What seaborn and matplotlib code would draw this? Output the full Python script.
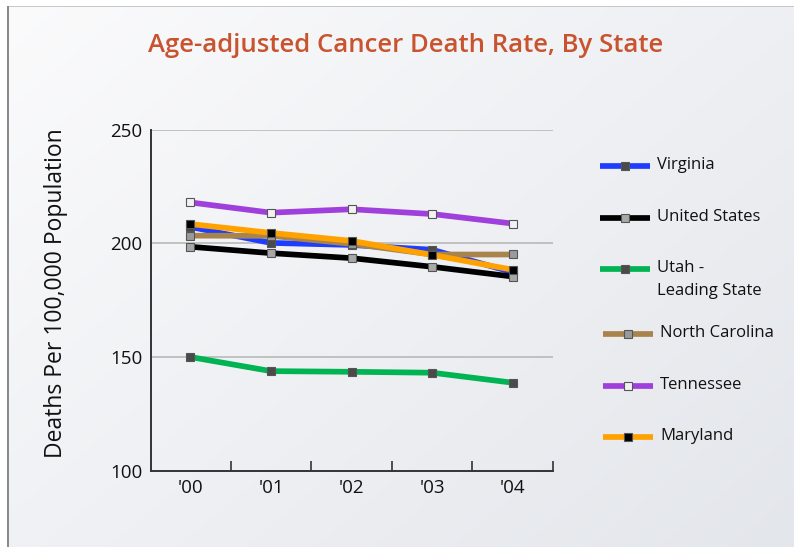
import numpy as np
import matplotlib
matplotlib.use("Agg")
import matplotlib.pyplot as plt
import seaborn as sns
from matplotlib.lines import Line2D
from matplotlib.colors import to_rgb

# --- data -------------------------------------------------------------
years = ["'00", "'01", "'02", "'03", "'04"]
virginia = [207.2, 200.2, 199.3, 197.2, 187.3]
united_states = [198.5, 195.7, 193.5, 189.7, 185.4]
utah = [150.0, 143.8, 143.5, 143.1, 138.7]
north_carolina = [203.4, 203.3, 199.8, 195.1, 195.1]
tennessee = [218.0, 213.5, 215.0, 212.9, 208.7]
maryland = [208.5, 204.6, 201.1, 194.9, 188.4]

labels = ["Virginia", "United States", "Utah -\nLeading State",
          "North Carolina", "Tennessee", "Maryland"]
series = [virginia, united_states, utah, north_carolina, tennessee, maryland]
line_colors = ["#1f3dff", "#000000", "#00b353", "#a8844c", "#a040dc", "#ffa200"]
marker_faces = ["#4a4a4a", "#a8a8a8", "#4a4a4a", "#9a9a9a", "#f2f2f2", "#000000"]
yticks = [100, 150, 200, 250]

sns.set_theme(style="white")
plt.rcParams["font.family"] = ["Open Sans", "DejaVu Sans"]

W, H = 794, 547
fig = plt.figure(figsize=(W / 100, H / 100), dpi=100)

# soft diagonal gradient backdrop with a thin frame on the left and top
bg = fig.add_axes([0, 0, 1, 1], zorder=-10)
yy, xx = np.mgrid[0:H, 0:W]
t = (xx / W * 0.55 + yy / H * 0.45)
c0 = np.array(to_rgb("#fbfbfc"))
c1 = np.array(to_rgb("#e3e6eb"))
img = c0[None, None, :] * (1 - t[..., None]) + c1[None, None, :] * t[..., None]
img[:6, :, :] = 1.0
img[:, :7, :] = 1.0
img[6, 7:, :] = to_rgb("#c8c8c8")
img[6:, 7:9, :] = to_rgb("#8a8a8a")
bg.imshow(img, aspect="auto", extent=[0, W, H, 0], interpolation="bilinear")
bg.set_axis_off()

ax = fig.add_axes([0.190, 0.1395, 0.5065, 0.6234])
ax.patch.set_alpha(0)

line_kw = dict(linewidth=4.1, marker="s", markersize=6,
               markeredgecolor="#555555", markeredgewidth=0.8)

for vals, col, mf in zip(series, line_colors, marker_faces):
    sns.lineplot(x=years, y=vals, ax=ax, color=col, markerfacecolor=mf,
                 sort=False, legend=False, **line_kw)

ax.set_ylim(100, 250)
ax.set_xlim(-0.49, 4.5)
ax.set_yticks(yticks)
ax.set_yticklabels([str(v) for v in yticks], fontsize=13.5, color="#111111")
ax.set_xticks(range(len(years)))
ax.set_xticklabels(years, fontsize=13.5, color="#111111")
ax.set_xticks([i + 0.5 for i in range(len(years))], minor=True)
ax.tick_params(axis="both", which="major", length=0, pad=6)
ax.tick_params(axis="x", which="minor", direction="in", length=7,
               width=1.2, color="#333333", bottom=True)
for y in yticks[1:]:
    ax.axhline(y, color="#bdbdbd", linewidth=1.3, zorder=0)
for s in ["top", "right"]:
    ax.spines[s].set_visible(False)
for s in ["left", "bottom"]:
    ax.spines[s].set_color("#333333")
    ax.spines[s].set_linewidth(1.4)
ax.set_xlabel("")
ax.set_ylabel("Deaths Per 100,000 Population", fontsize=16.5, color="#111111")
ax.yaxis.set_label_coords(-0.205, 0.52)

# legend: swatch on the left, first text line aligned with the swatch
legend_rows = [166, 218, 269, 334, 386, 437]
legend_x0 = [600, 600, 600, 603, 603, 603]
for row, x0, lab, col, mf in zip(legend_rows, legend_x0, labels,
                                 line_colors, marker_faces):
    yf = 1 - row / H
    fig.add_artist(Line2D([x0 / W, (x0 + 50) / W], [yf, yf], color=col,
                          linewidth=4.1, solid_capstyle="butt"))
    fig.add_artist(Line2D([(x0 + 25) / W], [yf], color=col, linestyle="none",
                          marker="s", markersize=6, markerfacecolor=mf,
                          markeredgecolor="#555555", markeredgewidth=0.8))
    fig.text((x0 + 57) / W, yf + 9 / H, lab, ha="left", va="top",
             fontsize=12, color="#111111", linespacing=1.55)

fig.text(406 / W, 1 - 45 / H, "Age-adjusted Cancer Death Rate, By State",
         ha="center", va="center", fontsize=18.5, fontweight="semibold",
         color="#c9532f")

fig.savefig("out.png", dpi=100)
